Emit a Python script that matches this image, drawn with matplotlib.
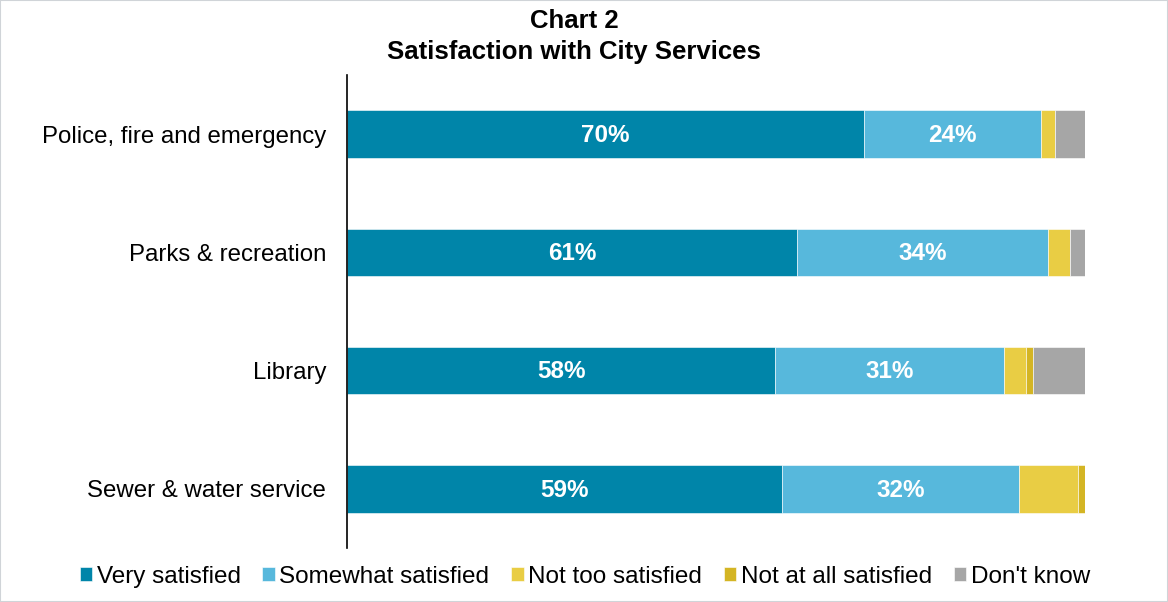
import matplotlib.pyplot as plt
from matplotlib.patches import Rectangle

plt.rcParams['font.family'] = ['Liberation Sans', 'DejaVu Sans']

services = ["Police, fire and emergency", "Parks & recreation", "Library", "Sewer & water service"]
series_names = ["Very satisfied", "Somewhat satisfied", "Not too satisfied", "Not at all satisfied", "Don't know"]
very_satisfied = [70, 61, 58, 59]
somewhat_satisfied = [24, 34, 31, 32]
not_too_satisfied = [2, 3, 3, 8]
not_at_all_satisfied = [0, 0, 1, 1]
dont_know = [4, 2, 7, 0]
colors = ["#0085A9", "#57B8DC", "#E9CD44", "#D4B524", "#A6A6A6"]
labeled = [True, True, False, False, False]

W, H = 1168, 602
fig = plt.figure(figsize=(W / 100, H / 100), dpi=100)
ax = fig.add_axes([347 / W, (H - 548) / H, (1085 - 347) / W, (548 - 75) / H])

series = [very_satisfied, somewhat_satisfied, not_too_satisfied, not_at_all_satisfied, dont_know]
ypos = list(range(len(services)))
left = [0] * len(services)
for name, vals, col, lab in zip(series_names, series, colors, labeled):
    bars = ax.barh(ypos, vals, left=left, height=0.4, color=col, label=name,
                   edgecolor="#ffffff", linewidth=0.4)
    if lab:
        for b, v in zip(bars, vals):
            ax.text(b.get_x() + b.get_width() / 2, b.get_y() + b.get_height() / 2 + 0.01,
                    f"{v}%", ha="center", va="center", color="white",
                    fontsize=17.5, fontweight="bold")
    left = [l + v for l, v in zip(left, vals)]

ax.set_xlim(0, 100)
ax.set_ylim(len(services) - 0.5, -0.5)
ax.set_yticks(ypos)
ax.set_yticklabels(services, fontsize=17.3)
ax.tick_params(axis="y", length=0, pad=15)
ax.set_xticks([])
for s in ["top", "right", "bottom"]:
    ax.spines[s].set_visible(False)
ax.spines["left"].set_linewidth(1.2)

fig.text(574 / W, 1 - 21 / H, "Chart 2", ha="center", va="center", fontsize=18.5, fontweight="bold")
fig.text(574 / W, 1 - 52 / H, "Satisfaction with City Services", ha="center", va="center",
         fontsize=18.5, fontweight="bold")

fig.legend(loc="center", bbox_to_anchor=(585 / W, 1 - 577 / H), ncol=5, frameon=False,
           fontsize=17.5, handlelength=0.5, handleheight=0.5, handletextpad=0.2,
           columnspacing=0.9, borderaxespad=0)

fig.patches.append(Rectangle((0, 0), 1, 1, transform=fig.transFigure, fill=False,
                             edgecolor="#D0D4D8", linewidth=1.5))

fig.savefig("out.png", dpi=100)
